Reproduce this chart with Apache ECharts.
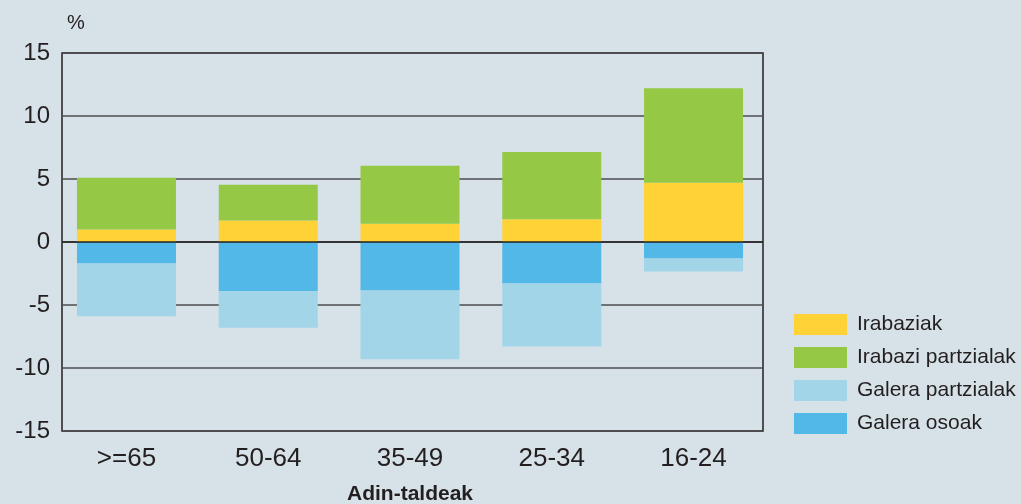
<!DOCTYPE html>
<html>
<head>
<meta charset="utf-8">
<script src="https://cdn.jsdelivr.net/npm/echarts@6/dist/echarts.min.js"></script>
<style>
  html, body { margin: 0; padding: 0; background: #d6e1e8; }
  #chart { width: 1021px; height: 504px; }
</style>
</head>
<body>
<div id="chart"></div>
<script>
// adin-taldeak
var categories = ['>=65', '50-64', '35-49', '25-34', '16-24'];
// %
var irabaziak = [1.0, 1.7, 1.45, 1.8, 4.7];
var irabaziPartzialak = [4.1, 2.85, 4.6, 5.35, 7.5];
var galeraOsoak = [-1.7, -3.9, -3.85, -3.3, -1.3];
var galeraPartzialak = [-4.2, -2.9, -5.45, -5.0, -1.05];
var yTicks = [-15, 15, 5];

var font = '"Liberation Sans", Arial, sans-serif';
var ink = '#231f20';

var chart = echarts.init(document.getElementById('chart'));

function barSeries(name, data, color) {
    return {
        name: name,
        type: 'bar',
        stack: 'total',
        xAxisIndex: 1,
        yAxisIndex: 1,
        data: data,
        barWidth: 99,
        z: 3,
        itemStyle: { color: color },
        emphasis: { disabled: true }
    };
}

chart.setOption({
    backgroundColor: '#d6e1e8',
    animation: false,
    textStyle: { fontFamily: font },
    title: {
        text: '%',
        left: 62,
        top: 8,
        textStyle: { fontSize: 20, fontWeight: 'normal', color: ink, fontFamily: font }
    },
    grid: [
        // frame + gridlines
        { left: 62, right: 258, top: 53, bottom: 73, outerBoundsMode: 'none', containLabel: false,
          show: true, borderColor: ink, borderWidth: 1.5 },
        // bars (slightly shifted like the original)
        { left: 55.6, right: 256.6, top: 53, bottom: 73, outerBoundsMode: 'none', containLabel: false }
    ],
    legend: {
        orient: 'vertical',
        left: 789,
        top: 309,
        itemWidth: 53,
        itemHeight: 21,
        itemGap: 12,
        icon: 'rect',
        data: ['Irabaziak', 'Irabazi partzialak', 'Galera partzialak', 'Galera osoak'],
        textStyle: { fontSize: 21, color: ink, fontFamily: font, padding: [0, 0, 0, 5] }
    },
    xAxis: [
        {
            type: 'category',
            gridIndex: 0,
            data: categories,
            axisLine: { show: false },
            axisTick: { show: false },
            axisLabel: { show: false }
        },
        {
            type: 'category',
            gridIndex: 1,
            data: categories,
            name: 'Adin-taldeak',
            nameLocation: 'middle',
            nameGap: 53,
            nameTextStyle: { fontSize: 21, fontWeight: 'bold', color: ink, fontFamily: font },
            axisLine: { show: false },
            axisTick: { show: false },
            axisLabel: { fontSize: 26, color: ink, margin: 15 }
        }
    ],
    yAxis: [
        {
            type: 'value',
            gridIndex: 0,
            min: yTicks[0],
            max: yTicks[1],
            interval: yTicks[2],
            axisLine: { show: false },
            axisTick: { show: false },
            axisLabel: { fontSize: 24, color: ink, margin: 12 },
            splitLine: { show: true, lineStyle: { color: '#4d4d4f', width: 1.5 } }
        },
        {
            type: 'value',
            gridIndex: 1,
            min: yTicks[0],
            max: yTicks[1],
            interval: yTicks[2],
            axisLine: { show: false },
            axisTick: { show: false },
            axisLabel: { show: false },
            splitLine: { show: false }
        }
    ],
    series: [
        barSeries('Irabaziak', irabaziak, '#ffd236'),
        barSeries('Irabazi partzialak', irabaziPartzialak, '#95c945'),
        barSeries('Galera osoak', galeraOsoak, '#52b8e8'),
        barSeries('Galera partzialak', galeraPartzialak, '#a2d5e8'),
        {
            // zero line
            type: 'line',
            xAxisIndex: 0,
            yAxisIndex: 0,
            data: [],
            z: 1,
            markLine: {
                silent: true,
                symbol: 'none',
                label: { show: false },
                lineStyle: { color: ink, width: 1.5, type: 'solid' },
                data: [{ yAxis: 0 }]
            }
        }
    ]
});
</script>
</body>
</html>
